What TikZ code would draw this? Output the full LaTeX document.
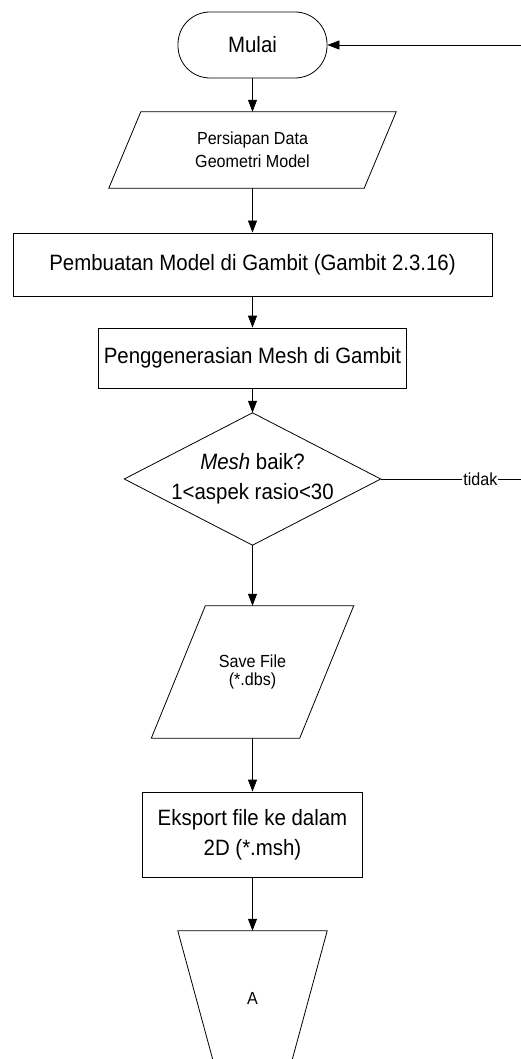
\documentclass[tikz,border=0pt]{standalone}
\usepackage{fontspec}
\setmainfont{Liberation Sans}[FakeStretch=0.92]
\usetikzlibrary{arrows.meta,calc}
\begin{document}
\begin{tikzpicture}[x=1pt,y=-1pt,
  lw/.style={line width=0.8pt},
  ghost/.style={inner sep=0pt, align=center},
  box/.style={ghost, draw, lw},
  big/.style={font=\fontsize{22.2}{30}\selectfont},
  small/.style={font=\fontsize{17.5}{23}\selectfont},
  arr/.style={lw, -{Triangle[length=12pt,width=9pt]}}]
\useasboundingbox (0,0) rectangle (521,1059);
\clip (0,0) rectangle (521,1059);
% nodes
\node[box, rounded corners=32pt, minimum width=149pt, minimum height=66pt, big] (mulai) at (252.5,45) {Mulai};
\node[ghost, minimum width=287pt, minimum height=76pt, small] (data) at (252.5,150) {Persiapan Data\\Geometri Model};
\draw[lw] ($(data.north west)+(32,0)$) -- (data.north east) -- ($(data.south east)+(-32,0)$) -- (data.south west) -- cycle;
\node[box, minimum width=479pt, minimum height=63pt, big] (model) at (252.5,264.5) {Pembuatan Model di Gambit (Gambit 2.3.16)};
\node[box, minimum width=308pt, minimum height=60pt, big] (mesh) at (252.5,358) {Penggenerasian Mesh di Gambit};
\node[ghost, minimum width=256pt, minimum height=132pt, big] (dia) at (252.5,479) {\textit{Mesh} baik?\\1<aspek rasio<30};
\draw[lw] (dia.north) -- (dia.east) -- (dia.south) -- (dia.west) -- cycle;
\node[ghost, minimum width=202pt, minimum height=132pt, font=\fontsize{17.5}{18}\selectfont] (save) at (252.5,672) {Save File\\(*.dbs)};
\draw[lw] ($(save.north west)+(54,0)$) -- (save.north east) -- ($(save.south east)+(-54,0)$) -- (save.south west) -- cycle;
\node[box, minimum width=220pt, minimum height=85pt, big] (eks) at (252.5,834.5) {Eksport file ke dalam\\2D (*.msh)};
\node[ghost, minimum width=149pt, minimum height=134pt, small] (A) at (252.5,998) {A};
\draw[lw] (A.north west) -- (A.north east) -- ($(A.south east)+(-36.5,0)$) -- ($(A.south west)+(36.5,0)$) -- cycle;
\coordinate (r0) at (521,45);
\coordinate (r1) at (521,479);
% connectors
\draw[arr] (r0) -- (mulai.east);
\draw[arr] (mulai.south) -- (data.north);
\draw[arr] (data.south) -- (model.north);
\draw[arr] (model.south) -- (mesh.north);
\draw[arr] (mesh.south) -- (dia.north);
\draw[arr] (dia.south) -- (save.north);
\draw[arr] (save.south) -- (eks.north);
\draw[arr] (eks.south) -- (A.north);
\draw[lw] (dia.east) -- node[pos=0.71, fill=white, inner sep=1pt, small] (tidak) {tidak} (r1);
\end{tikzpicture}
\end{document}
